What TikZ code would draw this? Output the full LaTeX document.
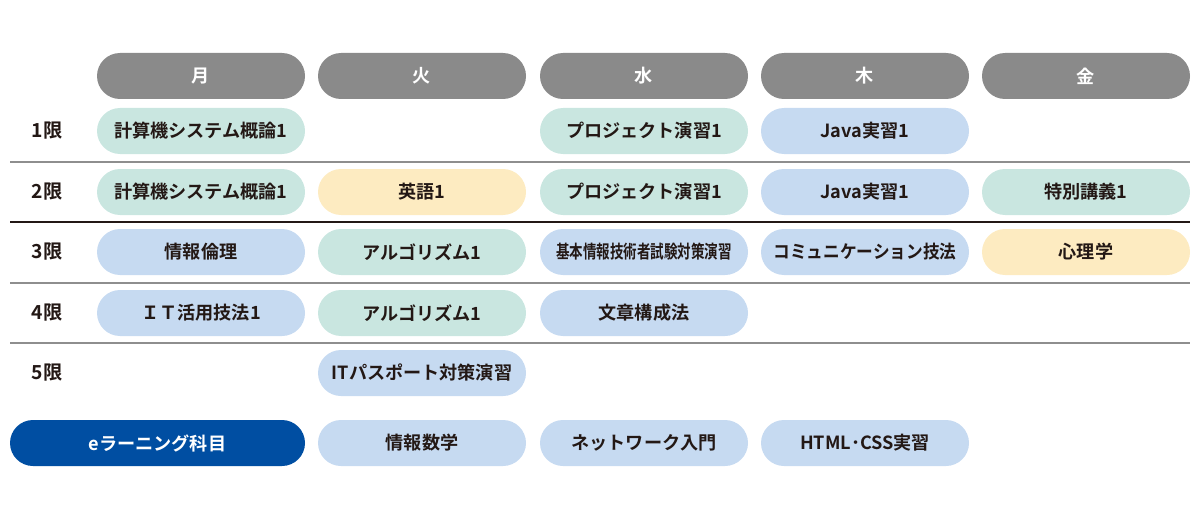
\documentclass[tikz,border=0pt]{standalone}
\usepackage{fontspec}
\usepackage{graphicx}
\setmainfont{Noto Sans CJK JP}[BoldFont={Noto Sans CJK JP Bold}]
\definecolor{hdr}{HTML}{8A8A8A}
\definecolor{grn}{HTML}{C9E6E0}
\definecolor{blu}{HTML}{C6DAF1}
\definecolor{ylw}{HTML}{FDEBC1}
\definecolor{dbl}{HTML}{004EA2}
\definecolor{ink}{HTML}{231815}
\definecolor{rule}{HTML}{8E8E8E}
\tikzset{
  pill/.style={rounded corners=17.25pt, minimum width=156pt, minimum height=34.5pt, inner sep=0pt,
    text=ink, font=\fontsize{13.6pt}{15pt}\selectfont\bfseries},
  hdrbox/.style={pill, fill=hdr, text=white},
  gbox/.style={pill, fill=grn},
  bbox/.style={pill, fill=blu},
  ybox/.style={pill, fill=ylw},
  lbl/.style={text=ink, font=\fontsize{14.5pt}{16pt}\selectfont\bfseries, inner sep=0pt},
  grayrule/.style={draw=rule, line width=1.5pt},
  blackrule/.style={draw=ink, line width=0.8pt},
}
\begin{document}
\begin{tikzpicture}[x=0.75pt, y=-0.75pt]
\useasboundingbox (0,0) rectangle (1200,517);
% rules
\coordinate (l1a) at (10,162); \coordinate (l1b) at (1190,162);
\coordinate (l2a) at (10,222); \coordinate (l2b) at (1190,222);
\coordinate (l3a) at (10,283); \coordinate (l3b) at (1190,283);
\coordinate (l4a) at (10,343); \coordinate (l4b) at (1190,343);
\draw[grayrule] (l1a) -- (l1b);
\draw[blackrule] (l2a) -- (l2b);
\draw[grayrule] (l3a) -- (l3b);
\draw[grayrule, line width=1.2pt] (l4a) -- (l4b);
% headers
\node[hdrbox] (hmon) at (201,76) {月};
\node[hdrbox] (htue) at (422,76) {火};
\node[hdrbox] (hwed) at (644,76) {水};
\node[hdrbox] (hthu) at (865,76) {木};
\node[hdrbox] (hfri) at (1086,76) {金};
% row labels
\node[lbl] (p1) at (47,131) {1限};
\node[lbl] (p2) at (47,192) {2限};
\node[lbl] (p3) at (47,252) {3限};
\node[lbl] (p4) at (47,313) {4限};
\node[lbl] (p5) at (47,373) {5限};
% row 1
\node[gbox] (r1mon) at (201,131) {計算機システム概論1};
\node[gbox] (r1wed) at (644,131) {プロジェクト演習1};
\node[bbox] (r1thu) at (865,131) {Java実習1};
% row 2
\node[gbox] (r2mon) at (201,192) {計算機システム概論1};
\node[ybox] (r2tue) at (422,192) {英語1};
\node[gbox] (r2wed) at (644,192) {プロジェクト演習1};
\node[bbox] (r2thu) at (865,192) {Java実習1};
\node[gbox] (r2fri) at (1086,192) {特別講義1};
% row 3
\node[bbox] (r3mon) at (201,252) {情報倫理};
\node[gbox] (r3tue) at (422,252) {アルゴリズム1};
\node[bbox] (r3wed) at (644,252) {\scalebox{0.745}[1]{基本情報技術者試験対策演習}};
\node[bbox] (r3thu) at (865,252) {\scalebox{0.92}[1]{コミュニケーション技法}};
\node[ybox] (r3fri) at (1086,252) {心理学};
% row 4
\node[bbox] (r4mon) at (201,313) {ＩＴ活用技法1};
\node[gbox] (r4tue) at (422,313) {アルゴリズム1};
\node[bbox] (r4wed) at (644,313) {文章構成法};
% row 5
\node[bbox] (r5tue) at (422,373) {ITパスポート対策演習};
% e-learning
\node[pill, fill=dbl, text=white, minimum width=221.25pt] (elearn) at (157.5,443) {eラーニング科目};
\node[bbox] (etue) at (422,443) {情報数学};
\node[bbox] (ewed) at (644,443) {ネットワーク入門};
\node[bbox] (ethu) at (865,443) {HTML･CSS実習};
\end{tikzpicture}
\end{document}
